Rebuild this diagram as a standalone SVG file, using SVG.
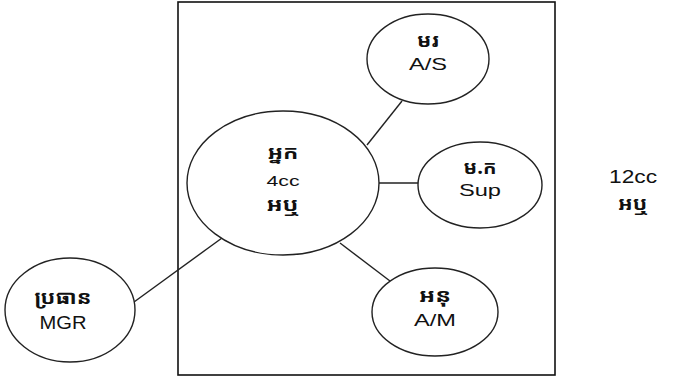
<svg xmlns="http://www.w3.org/2000/svg" width="679" height="377" viewBox="0 0 679 377">
<style>
.frame{fill:none;stroke:#111;stroke-width:1.6}
.node{fill:#fff;stroke:#222;stroke-width:1.4}
.edge{stroke:#222;stroke-width:1.4;fill:none}
.lat{font-family:"Liberation Sans",Arial,sans-serif;fill:#111;text-anchor:middle}
.km{font-family:"Noto Sans Khmer","Khmer OS","Noto Sans","DejaVu Sans",sans-serif;font-weight:bold;fill:#111;text-anchor:middle;font-size:19px}
</style>
<rect width="679" height="377" fill="#fff"/>
<rect class="frame" x="178" y="2" width="377" height="373"/>
<g id="connectors">
<line class="edge" x1="367" y1="145" x2="402" y2="101"/>
<line class="edge" x1="379" y1="183" x2="418" y2="183"/>
<line class="edge" x1="340" y1="243" x2="390" y2="281"/>
<line class="edge" x1="222" y1="238" x2="134" y2="302"/>
</g>
<g id="node-center">
<ellipse class="node" cx="283" cy="183" rx="96" ry="72"/>
<text class="km" x="283" y="159" textLength="31" lengthAdjust="spacingAndGlyphs">អ្នក</text>
<text class="lat" x="283" y="186" font-size="15" textLength="33" lengthAdjust="spacingAndGlyphs">4cc</text>
<text class="km" x="283" y="211" textLength="33" lengthAdjust="spacingAndGlyphs">អឬ</text>
</g>
<g id="node-as">
<ellipse class="node" cx="428" cy="59" rx="61" ry="45"/>
<text class="km" x="428" y="47" textLength="22" lengthAdjust="spacingAndGlyphs">មរ</text>
<text class="lat" x="428" y="70" font-size="17" textLength="38" lengthAdjust="spacingAndGlyphs">A/S</text>
</g>
<g id="node-sup">
<ellipse class="node" cx="480" cy="185" rx="62" ry="43"/>
<text class="km" x="480" y="174" textLength="33" lengthAdjust="spacingAndGlyphs">ម.ក</text>
<text class="lat" x="480" y="196" font-size="16" textLength="42" lengthAdjust="spacingAndGlyphs">Sup</text>
</g>
<g id="node-am">
<ellipse class="node" cx="435" cy="312" rx="63" ry="44"/>
<text class="km" x="435" y="302" textLength="32" lengthAdjust="spacingAndGlyphs">អនុ</text>
<text class="lat" x="435" y="326" font-size="17" textLength="42" lengthAdjust="spacingAndGlyphs">A/M</text>
</g>
<g id="node-mgr">
<ellipse class="node" cx="70" cy="310" rx="65" ry="52"/>
<text class="km" x="63" y="304" textLength="57" lengthAdjust="spacingAndGlyphs">ប្រធាន</text>
<text class="lat" x="63" y="329" font-size="19" textLength="47" lengthAdjust="spacingAndGlyphs">MGR</text>
</g>
<g id="note">
<text class="lat" x="633" y="183" font-size="18" textLength="48" lengthAdjust="spacingAndGlyphs">12cc</text>
<text class="km" x="633" y="210" textLength="30" lengthAdjust="spacingAndGlyphs">អឬ</text>
</g>
</svg>
